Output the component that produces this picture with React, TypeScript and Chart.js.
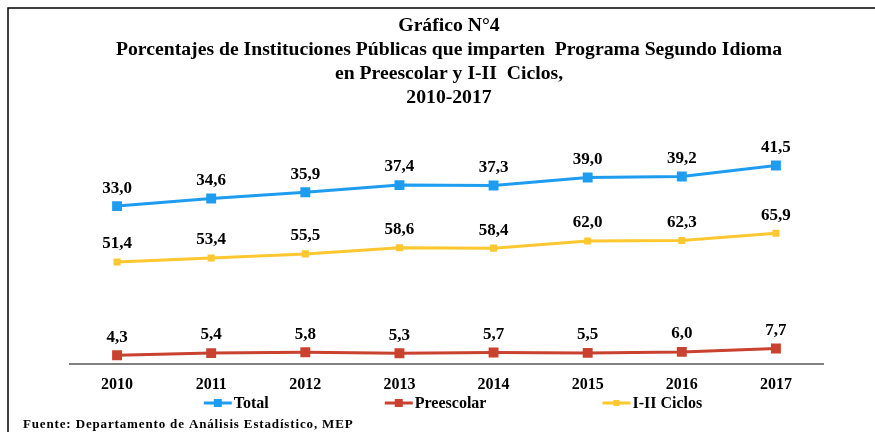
import React, { useEffect, useRef } from "react";
import { Chart, registerables } from "chart.js";

Chart.register(...registerables);

const categories = ["2010", "2011", "2012", "2013", "2014", "2015", "2016", "2017"];
const totalValues = [33.0, 34.6, 35.9, 37.4, 37.3, 39.0, 39.2, 41.5];
const preescolarValues = [4.3, 5.4, 5.8, 5.3, 5.7, 5.5, 6.0, 7.7];
const ciclosValues = [51.4, 53.4, 55.5, 58.6, 58.4, 62.0, 62.3, 65.9];
const seriesLabels = ["Total", "Preescolar", "I-II Ciclos"];
const titleLines = [
  "Gráfico N°4",
  "Porcentajes de Instituciones Públicas que imparten  Programa Segundo Idioma",
  "en Preescolar y I-II  Ciclos,",
  "2010-2017",
];
const sourceNote = "Fuente: Departamento de Análisis Estadístico, MEP";

const COLORS = ["#1E9CF0", "#C9412F", "#FDC72F"];
const SERIF = '"Liberation Serif", "Times New Roman", serif';

const fmt = (v: number) => v.toFixed(1).replace(".", ",");

const decorPlugin = {
  id: "decor",
  beforeDraw(chart: any) {
    const ctx = chart.ctx;
    ctx.save();
    ctx.fillStyle = "#ffffff";
    ctx.fillRect(0, 0, chart.width, chart.height);
    ctx.restore();
  },
  afterDraw(chart: any) {
    const ctx = chart.ctx;
    ctx.save();
    // frame
    ctx.strokeStyle = "#000";
    ctx.lineWidth = 1.5;
    ctx.beginPath();
    ctx.moveTo(8, chart.height + 2);
    ctx.lineTo(8, 8);
    ctx.lineTo(chart.width + 2, 8);
    ctx.stroke();

    // title
    ctx.fillStyle = "#000";
    ctx.font = `bold 19px ${SERIF}`;
    ctx.textAlign = "center";
    ctx.textBaseline = "middle";
    const w2 = ctx.measureText(titleLines[1]).width;
    const sx = 666 / w2;
    const cx = 449;
    titleLines.forEach((line, i) => {
      ctx.save();
      ctx.translate(cx, 26 + i * 24);
      ctx.scale(sx, 1);
      ctx.fillText(line, 0, 0);
      ctx.restore();
    });

    // legend
    ctx.font = `bold 16px ${SERIF}`;
    ctx.textAlign = "left";
    const lineW = 28;
    const gap = 116;
    const widths = seriesLabels.map((l) => ctx.measureText(l).width);
    const total = widths.reduce((a, w) => a + lineW + 2 + w, 0) + gap * 2;
    let x = 453 - total / 2;
    const ly = 403;
    const sq = [8, 8, 6];
    seriesLabels.forEach((l, i) => {
      ctx.strokeStyle = COLORS[i];
      ctx.lineWidth = 3;
      ctx.beginPath();
      ctx.moveTo(x, ly);
      ctx.lineTo(x + lineW, ly);
      ctx.stroke();
      ctx.fillStyle = COLORS[i];
      ctx.fillRect(x + lineW / 2 - sq[i] / 2, ly - sq[i] / 2, sq[i], sq[i]);
      ctx.fillStyle = "#000";
      ctx.fillText(l, x + lineW + 2, ly + 1);
      x += lineW + 2 + widths[i] + gap;
    });

    // source
    ctx.font = `bold 13px ${SERIF}`;
    (ctx as any).letterSpacing = "0.85px";
    ctx.textAlign = "left";
    ctx.fillText(sourceNote, 23, 425);
    (ctx as any).letterSpacing = "0px";
    ctx.restore();
  },
  afterDatasetsDraw(chart: any) {
    const ctx = chart.ctx;
    ctx.save();
    ctx.font = `bold 17px ${SERIF}`;
    ctx.fillStyle = "#000";
    ctx.textAlign = "center";
    ctx.textBaseline = "middle";
    chart.data.datasets.forEach((ds: any, di: number) => {
      const meta = chart.getDatasetMeta(di);
      meta.data.forEach((pt: any, i: number) => {
        ctx.fillText(fmt(ds.data[i]), pt.x, pt.y - 18);
      });
    });
    ctx.restore();
  },
};

export default function App() {
  const ref = useRef<HTMLCanvasElement | null>(null);
  useEffect(() => {
    if (!ref.current) return;
    const chart = new Chart(ref.current, {
      type: "line",
      data: {
        labels: categories,
        datasets: [
          {
            label: seriesLabels[0],
            data: totalValues,
            yAxisID: "y1",
            borderColor: COLORS[0],
            backgroundColor: COLORS[0],
            borderWidth: 3,
            pointStyle: "rect",
            pointRadius: 7,
            pointBorderWidth: 0,
          },
          {
            label: seriesLabels[1],
            data: preescolarValues,
            yAxisID: "y",
            borderColor: COLORS[1],
            backgroundColor: COLORS[1],
            borderWidth: 3,
            pointStyle: "rect",
            pointRadius: 7,
            pointBorderWidth: 0,
          },
          {
            label: seriesLabels[2],
            data: ciclosValues,
            yAxisID: "y",
            borderColor: COLORS[2],
            backgroundColor: COLORS[2],
            borderWidth: 3,
            pointStyle: "rect",
            pointRadius: 5,
            pointBorderWidth: 0,
          },
        ],
      },
      options: {
        animation: false,
        responsive: false,
        layout: { padding: { left: 70, right: 52, top: 144, bottom: 35 } },
        plugins: {
          legend: { display: false },
          title: { display: false },
          tooltip: { enabled: false },
        },
        scales: {
          x: {
            offset: true,
            grid: { display: false },
            border: { display: true, color: "#808080", width: 2 },
            ticks: {
              padding: 3,
              color: "#000",
              font: { family: SERIF, size: 16, weight: "bold" },
            },
          },
          y: { display: false, min: 0, max: 111 },
          y1: { display: false, min: 0, max: 46 },
        },
      },
      plugins: [decorPlugin],
    });
    return () => chart.destroy();
  }, []);
  return (
    <div style={{ position: "fixed", left: 0, top: 0, width: 875, height: 432 }}>
      <canvas ref={ref} width={875} height={432} />
    </div>
  );
}
